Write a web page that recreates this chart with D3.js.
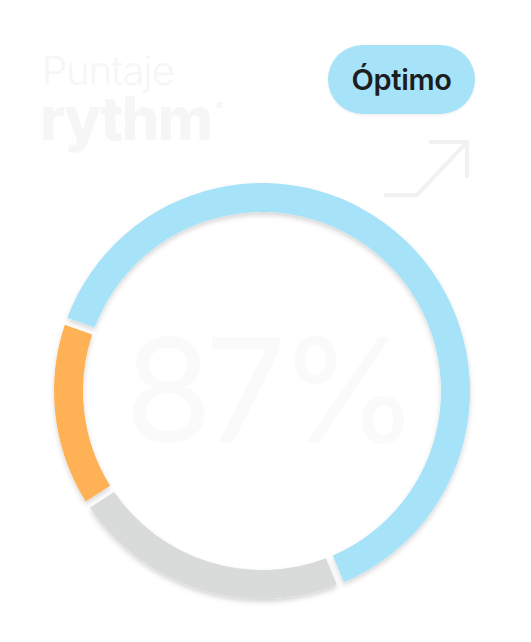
<!DOCTYPE html>
<html><head><meta charset="utf-8">
<script src="https://cdn.jsdelivr.net/npm/d3@7/dist/d3.min.js"></script>
<style>html,body{margin:0;padding:0;background:#fff;}svg{display:block;}</style>
</head><body>
<script>
const categories = ["Óptimo", "Sin datos", "Bajo"];
const values = [63.8, 21.8, 14.4];
const colors = ["#a6e3f9", "#d9dbdb", "#ffb155"];
const scoreLabel = "87%";
const badgeLabel = "Óptimo";
const titleTop = "Puntaje";
const titleBrand = "rythm";

const W = 531, H = 642;
const svg = d3.select("body").append("svg").attr("width", W).attr("height", H);
const defs = svg.append("defs");
const f = defs.append("filter").attr("id","sh").attr("x","-20%").attr("y","-20%").attr("width","140%").attr("height","140%");
f.append("feDropShadow").attr("dx",0).attr("dy",3).attr("stdDeviation",2.5).attr("flood-color","#000").attr("flood-opacity",0.16);
const f2 = defs.append("filter").attr("id","sh2").attr("x","-20%").attr("y","-20%").attr("width","140%").attr("height","140%");
f2.append("feDropShadow").attr("dx",0).attr("dy",1).attr("stdDeviation",1).attr("flood-color","#000").attr("flood-opacity",0.08);

// Title
svg.append("text").attr("x",42).attr("y",85).text(titleTop)
  .attr("font-family","Inter, sans-serif").attr("font-weight",300).attr("font-size",40)
  .attr("fill","#f6f6f6").attr("letter-spacing",-1);
svg.append("text").attr("x",40).attr("y",140).text(titleBrand)
  .attr("font-family","Inter, sans-serif").attr("font-weight",800).attr("font-size",60)
  .attr("fill","#f6f6f6").attr("letter-spacing",-2);
svg.append("text").attr("x",216).attr("y",110).text("®")
  .attr("font-family","Inter, sans-serif").attr("font-size",10).attr("fill","#f3f3f3");

// Badge
const bg = svg.append("g");
bg.append("rect").attr("x",328).attr("y",45).attr("width",147).attr("height",69).attr("rx",34.5)
  .attr("fill","#a6e3f9").attr("filter","url(#sh2)");
bg.append("text").attr("x",401.5).attr("y",90).attr("text-anchor","middle").text(badgeLabel)
  .attr("font-family","Inter, sans-serif").attr("font-weight",600).attr("font-size",29).attr("fill","#1d1d1f")
  .attr("letter-spacing",-0.3);

// Arrow
const ag = svg.append("g").attr("fill","none").attr("stroke","#f1f1f1").attr("stroke-width",4);
ag.append("path").attr("d","M384,195 L417,195 L467,142");
ag.append("path").attr("d","M429,142 L467,142 L467,178");

// Score text
svg.append("text").attr("x",268).attr("y",442).attr("text-anchor","middle").text(scoreLabel)
  .attr("font-family","Inter, sans-serif").attr("font-weight",400).attr("font-size",144)
  .attr("fill","#fafafa").attr("letter-spacing",-8);

// Donut
const cx = 262, cy = 391, rOut = 208, rIn = 179;
const pie = d3.pie().sort(null).value(d => d)
  .startAngle(-70.4 * Math.PI/180).endAngle(289.6 * Math.PI/180).padAngle(0.027);
const arc = d3.arc().innerRadius(rIn).outerRadius(rOut);
const g = svg.append("g").attr("transform",`translate(${cx},${cy})`).attr("filter","url(#sh)");
g.selectAll("path").data(pie(values)).join("path")
  .attr("d", arc).attr("fill", (d,i) => colors[i])
  .append("title").text((d,i)=>categories[i]);
</script>
</body></html>
